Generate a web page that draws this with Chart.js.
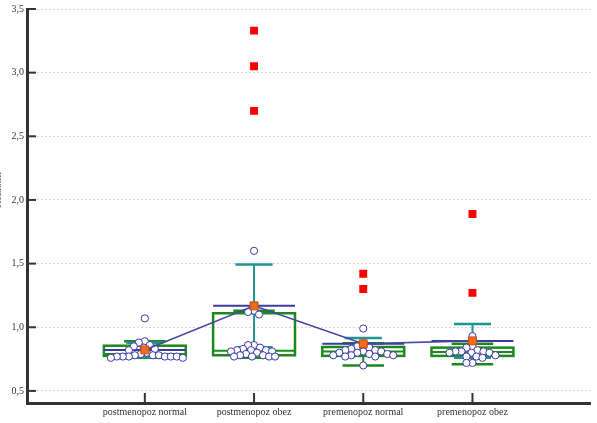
<!DOCTYPE html>
<html><head><meta charset="utf-8">
<script src="https://cdn.jsdelivr.net/npm/chart.js@4"></script>
<style>html,body{margin:0;padding:0;background:#fff}canvas{display:block}</style>
</head><body>
<canvas id="c" width="597" height="423"></canvas>
<script>
// ---- data ----
const categories = ["postmenopoz normal", "postmenopoz obez", "premenopoz normal", "premenopoz obez"];
const yTicks = [0.5, 1.0, 1.5, 2.0, 2.5, 3.0, 3.5];
const yTitle = "Rezistin";
const q1 = [0.775, 0.78, 0.775, 0.775];
const median = [0.79, 0.815, 0.81, 0.805];
const q3 = [0.855, 1.11, 0.845, 0.84];
const whiskerLow = [0.76, 0.76, 0.70, 0.71];
const whiskerHigh = [0.89, 1.13, 0.875, 0.87];
const means = [0.822, 1.168, 0.87, 0.893];
const sdLow = [0.766, 0.843, 0.825, 0.76];
const sdHigh = [0.878, 1.493, 0.915, 1.026];
const pointsG1 = [1.07, 0.89, 0.88, 0.86, 0.85, 0.84, 0.83, 0.82, 0.80, 0.79, 0.78, 0.78, 0.78, 0.77, 0.77, 0.77, 0.77, 0.77, 0.77, 0.76, 0.76];
const pointsG2 = [1.60, 1.13, 1.12, 1.10, 0.86, 0.86, 0.84, 0.83, 0.82, 0.82, 0.82, 0.81, 0.81, 0.80, 0.79, 0.78, 0.78, 0.77, 0.77, 0.77, 0.77];
const pointsG3 = [0.99, 0.86, 0.85, 0.84, 0.83, 0.82, 0.82, 0.81, 0.81, 0.80, 0.80, 0.79, 0.79, 0.78, 0.78, 0.78, 0.77, 0.77, 0.70];
const pointsG4 = [0.93, 0.85, 0.84, 0.82, 0.81, 0.81, 0.81, 0.80, 0.80, 0.80, 0.78, 0.77, 0.77, 0.76, 0.72, 0.72];
const outliersG1 = [];
const outliersG2 = [3.33, 3.05, 2.70];
const outliersG3 = [1.42, 1.30];
const outliersG4 = [1.89, 1.27];

const points = [pointsG1, pointsG2, pointsG3, pointsG4];
const outliers = [outliersG1, outliersG2, outliersG3, outliersG4];

const meanData = means.map((m, i) => ({x: i + 1, y: m}));
const outlierData = [];
outliers.forEach((arr, i) => arr.forEach(v => outlierData.push({x: i + 1, y: v})));

const GREEN = '#1b8a1b', TEAL = '#1f9494', NAVY = '#3b3b9e', AXIS = '#333333';
const BOX_W = 0.375, CAP_W = 0.19, SD_CAP_W = 0.17;
const fmt = v => v.toFixed(1).replace('.', ',');

const drawPlugin = {
  id: 'boxes',
  beforeDatasetsDraw(chart) {
    const ctx = chart.ctx, xs = chart.scales.x, ys = chart.scales.y;
    const X = v => xs.getPixelForValue(v), Y = v => ys.getPixelForValue(v);
    ctx.save();
    const line = (x1, y1, x2, y2, c, w) => {
      ctx.strokeStyle = c; ctx.lineWidth = w; ctx.beginPath();
      ctx.moveTo(x1, y1); ctx.lineTo(x2, y2); ctx.stroke();
    };
    categories.forEach((_, i) => {
      const c = i + 1;
      line(X(c), Y(q3[i]), X(c), Y(whiskerHigh[i]), GREEN, 2);
      line(X(c), Y(q1[i]), X(c), Y(whiskerLow[i]), GREEN, 2);
      line(X(c - CAP_W), Y(whiskerHigh[i]), X(c + CAP_W), Y(whiskerHigh[i]), GREEN, 2.5);
      line(X(c - CAP_W), Y(whiskerLow[i]), X(c + CAP_W), Y(whiskerLow[i]), GREEN, 2.5);
      ctx.strokeStyle = GREEN; ctx.lineWidth = 2.5;
      ctx.strokeRect(X(c - BOX_W), Y(q3[i]), X(c + BOX_W) - X(c - BOX_W), Y(q1[i]) - Y(q3[i]));
      line(X(c - BOX_W), Y(median[i]), X(c + BOX_W), Y(median[i]), GREEN, 2);
      line(X(c), Y(sdLow[i]), X(c), Y(sdHigh[i]), TEAL, 2);
      line(X(c - SD_CAP_W), Y(sdHigh[i]), X(c + SD_CAP_W), Y(sdHigh[i]), TEAL, 2.5);
      line(X(c - SD_CAP_W), Y(sdLow[i]), X(c + SD_CAP_W), Y(sdLow[i]), TEAL, 2.5);
      line(X(c - BOX_W), Y(means[i]), X(c + BOX_W), Y(means[i]), NAVY, 2);
    });
    const r = 3.6, minD = 5.8;
    points.forEach((arr, i) => {
      const cx = X(i + 1);
      const placed = [];
      arr.forEach(v => {
        const py = Y(v);
        let best = cx;
        for (let k = 0; k < 200; k++) {
          const off = (k % 2 === 0 ? 1 : -1) * Math.ceil(k / 2);
          const px = cx + off;
          if (placed.every(p => Math.hypot(p[0] - px, p[1] - py) >= minD)) { best = px; break; }
        }
        placed.push([best, py]);
      });
      placed.forEach(p => {
        ctx.beginPath(); ctx.arc(p[0], p[1], r, 0, Math.PI * 2);
        ctx.fillStyle = '#ffffff'; ctx.fill();
        ctx.strokeStyle = '#3a3aa8'; ctx.lineWidth = 1; ctx.stroke();
      });
    });
    ctx.restore();
  },
  afterDraw(chart) {
    const ctx = chart.ctx, xs = chart.scales.x, ys = chart.scales.y, a = chart.chartArea;
    ctx.save();
    ctx.strokeStyle = AXIS; ctx.lineWidth = 2;
    yTicks.forEach(v => {
      const y = ys.getPixelForValue(v);
      ctx.beginPath(); ctx.moveTo(a.left, y); ctx.lineTo(a.left + 9, y); ctx.stroke();
    });
    categories.forEach((_, i) => {
      const x = xs.getPixelForValue(i + 1);
      ctx.beginPath(); ctx.moveTo(x, a.bottom); ctx.lineTo(x, a.bottom - 10); ctx.stroke();
    });
    ctx.translate(-2, 190); ctx.rotate(-Math.PI / 2);
    ctx.fillStyle = '#555'; ctx.font = '11px "Liberation Serif"';
    ctx.textAlign = 'center'; ctx.textBaseline = 'middle';
    ctx.fillText(yTitle, 0, 0);
    ctx.restore();
  }
};

new Chart(document.getElementById('c'), {
  type: 'scatter',
  data: {
    datasets: [
      { type: 'scatter', data: outlierData, pointStyle: 'rect', pointRadius: 5.6,
        backgroundColor: '#ff0000', borderColor: '#ff0000', borderWidth: 0, order: 0 },
      { type: 'scatter', data: meanData, pointStyle: 'rect', pointRadius: 5.6,
        backgroundColor: '#f26a1b', borderColor: '#c84a10', borderWidth: 1, order: 1 },
      { type: 'line', data: meanData, borderColor: '#4545a5', borderWidth: 1.6,
        pointRadius: 0, fill: false, tension: 0, order: 2 }
    ]
  },
  options: {
    responsive: false, animation: false,
    layout: { padding: { top: 9, right: 6, left: 0, bottom: 0 } },
    plugins: { legend: { display: false }, tooltip: { enabled: false } },
    scales: {
      x: {
        type: 'linear', min: -0.079, max: 5.08,
        afterBuildTicks: s => { s.ticks = categories.map((_, i) => ({value: i + 1})); },
        afterFit: s => { s.height = 20; },
        ticks: { callback: v => categories[v - 1] || '', font: { family: 'Liberation Serif', size: 10 },
                 color: '#333', padding: 3, maxRotation: 0, autoSkip: false },
        grid: { display: false, drawTicks: false },
        border: { display: true, color: AXIS, width: 3 }
      },
      y: {
        type: 'linear', min: 0.405, max: 3.5,
        afterBuildTicks: s => { s.ticks = yTicks.map(v => ({value: v})); },
        afterFit: s => { s.width = 27; },
        ticks: { callback: v => fmt(v), font: { family: 'Liberation Serif', size: 10 },
                 color: '#333', padding: 3 },
        grid: { color: '#d4d4d4', lineWidth: 1, drawTicks: false },
        border: { display: true, color: AXIS, width: 3, dash: [2, 2] }
      }
    }
  },
  plugins: [drawPlugin]
});
</script>
</body></html>
